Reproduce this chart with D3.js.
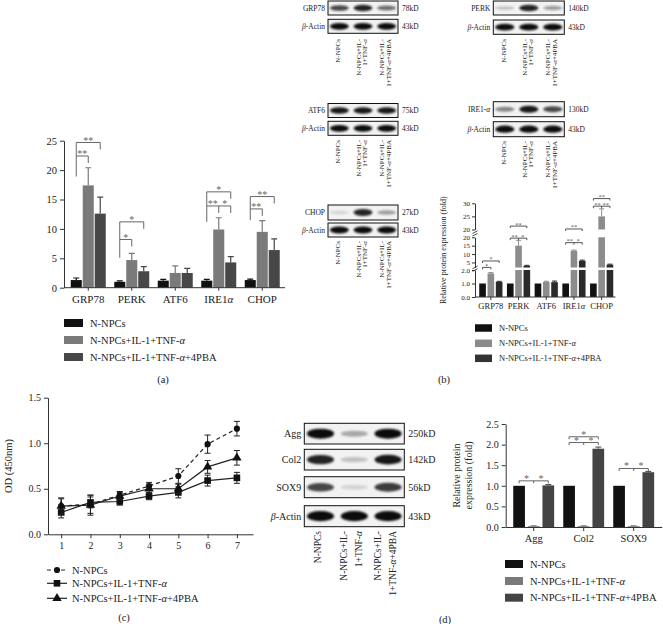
<!DOCTYPE html>
<html>
<head>
<meta charset="utf-8">
<script src="https://cdn.jsdelivr.net/npm/d3@7"></script>
<style>
body { margin: 0; background: #fff; }
svg text { font-family: "Liberation Serif", "DejaVu Serif", serif; fill: #222; }
</style>
</head>
<body>
<div id="chart"></div>
<script>
const w = 663;
const h = 624;

// ---- data ----
const groups = ['N-NPCs', 'N-NPCs+IL-1+TNF-α', 'N-NPCs+IL-1+TNF-α+4PBA'];
const erCats = ['GRP78', 'PERK', 'ATF6', 'IRE1α', 'CHOP'];

// (a) qPCR
const aCtrl = [1.3, 1.0, 1.2, 1.2, 1.3];
const aCtrlErr = [0.35, 0.15, 0.2, 0.2, 0.15];
const aIL = [17.4, 4.7, 2.5, 9.9, 9.5];
const aILErr = [3.0, 1.15, 1.2, 2.0, 1.9];
const aPBA = [12.6, 2.8, 2.5, 4.3, 6.4];
const aPBAErr = [2.8, 0.8, 0.8, 1.0, 1.9];
const sigA = [
    { cat: 'GRP78', to: 1, y: 22.4, labels: ['**'] },
    { cat: 'GRP78', to: 2, y: 24.7, labels: ['**'] },
    { cat: 'PERK', to: 1, y: 8.2, labels: ['*'] },
    { cat: 'PERK', to: 2, y: 11.2, labels: ['*'] },
    { cat: 'IRE1α', to: 2, mid: true, y: 13.9, labels: ['**', '*'] },
    { cat: 'IRE1α', to: 2, y: 16.3, labels: ['*'] },
    { cat: 'CHOP', to: 1, y: 13.4, labels: ['**'] },
    { cat: 'CHOP', to: 2, y: 15.5, labels: ['**'] }
];
const legA = [
    { cat: 'GRP78', bottom: 18.9 },
    { cat: 'PERK', bottom: 5.1 },
    { cat: 'IRE1α', bottom: 11.2 },
    { cat: 'CHOP', bottom: 11.5 }
];

// (b) western blot quantification
const bCtrl = [1, 1, 1, 1, 1];
const bIL = [1.75, 15, 1.12, 12, 25];
const bILErr = [0.06, 3.2, 0.05, 0.4, 2.9];
const bPBA = [1.12, 3.0, 1.1, 6.0, 3.7];
const bPBAErr = [0.04, 0.3, 0.08, 0.4, 0.3];
const bSegDomains = [[0, 2], [2, 20], [20, 30]];
const bSegTicks = [[0, 1, 2], [5, 10, 15, 20], [20, 25, 30]];
const sigB = [
    { cat: 'GRP78', to: 1, y: 2.05, labels: ['*'] },
    { cat: 'GRP78', to: 2, y: 5.9, labels: ['*'] },
    { cat: 'PERK', to: 2, mid: true, y: 19.5, labels: ['**', '*'] },
    { cat: 'PERK', to: 2, y: 21.3, labels: ['**'] },
    { cat: 'IRE1α', to: 2, mid: true, y: 16.8, labels: ['**', '*'] },
    { cat: 'IRE1α', to: 2, y: 20.2, labels: ['**'] },
    { cat: 'CHOP', to: 2, mid: true, y: 28.9, labels: ['**', '**'] },
    { cat: 'CHOP', to: 2, y: 31.8, labels: ['**'] }
];

// blot band intensities (lane 1..3)
const blotGRP78 = [0.7, 0.85, 0.55];
const blotPERK = [0.2, 0.85, 0.35];
const blotATF6 = [0.9, 0.9, 0.9];
const blotIRE1 = [0.45, 0.9, 0.7];
const blotCHOP = [0.12, 0.85, 0.35];
const blotActin = [0.95, 0.95, 0.95];
const blotAgg = [0.95, 0.3, 0.95];
const blotCol2 = [0.85, 0.2, 0.9];
const blotSOX9 = [0.7, 0.12, 0.75];
const laneLines = [['N-NPCs'], ['N-NPCs+IL-', '1+TNF-α'], ['N-NPCs+IL-', '1+TNF-α+4PBA']];

// (c) CCK-8
const days = [1, 2, 3, 4, 5, 6, 7];
const cCtrl = [0.31, 0.33, 0.43, 0.53, 0.64, 0.99, 1.16];
const cCtrlErr = [0.08, 0.1, 0.04, 0.04, 0.08, 0.1, 0.08];
const cIL = [0.24, 0.35, 0.36, 0.42, 0.46, 0.59, 0.62];
const cILErr = [0.06, 0.06, 0.04, 0.04, 0.06, 0.06, 0.06];
const cPBA = [0.31, 0.32, 0.42, 0.5, 0.5, 0.74, 0.84];
const cPBAErr = [0.09, 0.11, 0.04, 0.05, 0.05, 0.07, 0.08];

// (d) matrix proteins
const dCats = ['Agg', 'Col2', 'SOX9'];
const dCtrl = [1, 1, 1];
const dIL = [0.02, 0.02, 0.02];
const dILErr = [0.01, 0.01, 0.01];
const dPBA = [1.01, 1.9, 1.33];
const dPBAErr = [0.02, 0.04, 0.02];
const sigD = [
    { cat: 'Agg', to: 2, mid: true, y: 1.12, labels: ['*', '*'] },
    { cat: 'Col2', to: 2, mid: true, y: 2.05, labels: ['*', '*'] },
    { cat: 'Col2', to: 2, y: 2.19, labels: ['*'] },
    { cat: 'SOX9', to: 2, mid: true, y: 1.42, labels: ['*', '*'] }
];

// ---- helpers ----
const svg = d3.select('#chart').append('svg')
    .attr('width', w)
    .attr('height', h)
    .style('background-color', '#fff');

const defs = svg.append('defs');
defs.append('filter').attr('id', 'blur')
    .attr('x', '-40%').attr('y', '-120%').attr('width', '180%').attr('height', '340%')
    .append('feGaussianBlur').attr('stdDeviation', '1.3 0.9');

function rich(t, str) {
    str.split(/([αβ])/).filter(s => s).forEach(s => {
        const sp = t.append('tspan').text(s);
        if (/[αβ]/.test(s)) sp.style('font-style', 'italic');
    });
}

function styleAxis(g, fs) {
    g.selectAll('text').style('font-size', fs + 'px');
    g.selectAll('path,line').attr('stroke', '#333');
}

function drawBlot(x0, x1, y0, y1, vals, label, kd, fs) {
    const lane = d3.scaleBand().domain(d3.range(vals.length)).range([x0, x1])
        .paddingInner(0.2).paddingOuter(0.08);
    const ry = d3.scaleLinear().domain([0, 1]).range([(y1 - y0) * 0.1, (y1 - y0) * 0.25]);
    svg.append('rect')
        .attr('x', x0).attr('y', y0)
        .attr('width', x1 - x0).attr('height', y1 - y0)
        .attr('fill', '#f2f2f2').attr('stroke', '#111').attr('stroke-width', 1);
    svg.append('g').selectAll('ellipse')
        .data(vals)
        .enter()
        .append('ellipse')
        .attr('cx', (d, i) => lane(i) + lane.bandwidth() / 2)
        .attr('cy', (y0 + y1) / 2)
        .attr('rx', lane.bandwidth() / 2)
        .attr('ry', d => ry(d))
        .attr('fill', '#000')
        .attr('opacity', d => d)
        .attr('filter', 'url(#blur)');
    const t = svg.append('text')
        .attr('x', x0 - 3).attr('y', (y0 + y1) / 2).attr('dy', '0.35em')
        .attr('text-anchor', 'end').style('font-size', fs + 'px');
    rich(t, label);
    svg.append('text')
        .attr('x', x1 + 4).attr('y', (y0 + y1) / 2).attr('dy', '0.35em')
        .style('font-size', fs + 'px').text(kd);
    return lane;
}

function laneLabels(lane, yTop, fs, gap, shift) {
    laneLines.forEach((lines, i) => {
        const cx = lane(i) + lane.bandwidth() / 2 + shift;
        lines.forEach((line, j) => {
            const x = cx + (j - (lines.length - 1) / 2) * gap;
            const t = svg.append('text')
                .attr('transform', `translate(${x},${yTop}) rotate(-90)`)
                .attr('text-anchor', 'end').attr('dy', '0.35em')
                .style('font-size', fs + 'px');
            rich(t, line);
        });
    });
}

function legendBars(x, ys, colors, sw, sh, fs) {
    groups.forEach((g, i) => {
        svg.append('rect').attr('x', x).attr('y', ys[i] - sh / 2)
            .attr('width', sw).attr('height', sh).attr('fill', colors[i]);
        const t = svg.append('text').attr('x', x + sw + 7).attr('y', ys[i]).attr('dy', '0.35em')
            .style('font-size', fs + 'px');
        rich(t, g);
    });
}

function brackets(list, center, yf, drop, fs, dy, color) {
    list.forEach(s => {
        const x1 = center(s.cat, 0), x2 = center(s.cat, s.to), xm = center(s.cat, 1);
        const yy = yf(s.y);
        svg.append('path')
            .attr('d', `M${x1},${yy + (s.noLeft ? 0 : drop)}V${yy}H${x2}V${yy + drop}`)
            .attr('fill', 'none').attr('stroke', color).attr('stroke-width', 1);
        if (s.mid) {
            svg.append('line').attr('x1', xm).attr('x2', xm).attr('y1', yy).attr('y2', yy + drop)
                .attr('stroke', color).attr('stroke-width', 1);
        }
        const pos = s.labels.length === 1 ? [(x1 + x2) / 2] : [(x1 + xm) / 2, (xm + x2) / 2];
        s.labels.forEach((lab, i) => {
            svg.append('text').attr('x', pos[i]).attr('y', yy + dy)
                .attr('text-anchor', 'middle').style('font-size', fs + 'px')
                .style('fill', color).text(lab);
        });
    });
}

// ================= (a) =================
const colA = ['#111', '#7a7a7a', '#474747'];
const ax = d3.scaleBand().domain(erCats).range([66.5, 284]);
const aIn = d3.scaleBand().domain([0, 1, 2]).range([-17.5, 17.5]).paddingInner(0.08);
const ay = d3.scaleLinear().domain([0, 25]).range([287.7, 140.7]);
const aRows = erCats.flatMap((c, i) => [[aCtrl, aCtrlErr], [aIL, aILErr], [aPBA, aPBAErr]]
    .map((s, k) => ({ cat: c, k: k, v: s[0][i], e: s[1][i] })));
const aCenter = (c, k) => ax(c) + ax.bandwidth() / 2 + aIn(k) + aIn.bandwidth() / 2;
const aX0 = ax.range()[0] - 2.5;

svg.append('g').selectAll('rect').data(aRows).enter().append('rect')
    .attr('x', d => aCenter(d.cat, d.k) - aIn.bandwidth() / 2)
    .attr('y', d => ay(d.v))
    .attr('width', aIn.bandwidth())
    .attr('height', d => ay(0) - ay(d.v))
    .attr('fill', d => colA[d.k]);
svg.append('g').selectAll('path').data(aRows).enter().append('path')
    .attr('d', d => {
        const x = aCenter(d.cat, d.k);
        return `M${x},${ay(d.v)}V${ay(d.v + d.e)}M${x - 3},${ay(d.v + d.e)}H${x + 3}`;
    })
    .attr('stroke', d => colA[d.k]).attr('stroke-width', 1.2).attr('fill', 'none');

const ayAxis = svg.append('g').attr('transform', `translate(${aX0},0)`)
    .call(d3.axisLeft(ay).tickValues([0, 5, 10, 15, 20, 25]).tickSize(4).tickSizeOuter(0).tickPadding(3));
styleAxis(ayAxis, 10.5);
const axAxis = svg.append('g').attr('transform', `translate(0,${ay(0)})`)
    .call(d3.axisBottom(ax).tickSize(3).tickSizeOuter(0).tickPadding(5));
axAxis.select('.domain').attr('d', `M${aX0},0H${ax.range()[1] + 1}`);
styleAxis(axAxis, 11);
axAxis.selectAll('.tick text').each(function (d) { const t = d3.select(this).text(''); rich(t, d); });

legA.forEach(l => {
    const top = d3.max(sigA.filter(s => s.cat === l.cat), s => s.y);
    svg.append('line').attr('x1', aCenter(l.cat, 0)).attr('x2', aCenter(l.cat, 0))
        .attr('y1', ay(top)).attr('y2', ay(l.bottom)).attr('stroke', '#666').attr('stroke-width', 1);
});
brackets(sigA.map(s => Object.assign({ noLeft: true }, s)), aCenter, ay, 7, 10, 1.5, '#666');

legendBars(64, [323, 340, 357], colA, 19, 8, 10.5);
svg.append('text').attr('x', 163).attr('y', 379).attr('dy', '0.35em').attr('text-anchor', 'middle')
    .style('font-size', '10.5px').text('(a)');

// ================= (b) blots =================
const bl1 = drawBlot(328, 398, 1, 15, blotGRP78, 'GRP78', '78kD', 7.5);
drawBlot(328, 398, 19.3, 33.3, blotActin, 'β-Actin', '43kD', 7.5);
laneLabels(bl1, 39, 7, 6.5, -1.5);
const bl2 = drawBlot(493.3, 564.3, 1, 15, blotPERK, 'PERK', '140kD', 7.5);
drawBlot(493.3, 564.3, 20, 34.3, blotActin, 'β-Actin', '43kD', 7.5);
laneLabels(bl2, 39, 7, 6.5, -1.5);
const bl3 = drawBlot(328, 398, 103.5, 117.5, blotATF6, 'ATF6', '75kD', 7.5);
drawBlot(328, 398, 121.3, 135.3, blotActin, 'β-Actin', '43kD', 7.5);
laneLabels(bl3, 140, 7, 6.5, -1.5);
const bl4 = drawBlot(493.3, 564.3, 101.7, 116.7, blotIRE1, 'IRE1-α', '130kD', 7.5);
drawBlot(493.3, 564.3, 121.7, 136.7, blotActin, 'β-Actin', '43kD', 7.5);
laneLabels(bl4, 141, 7, 6.5, -1.5);
const bl5 = drawBlot(328, 398, 205, 220, blotCHOP, 'CHOP', '27kD', 7.5);
drawBlot(328, 398, 223, 237, blotActin, 'β-Actin', '43kD', 7.5);
laneLabels(bl5, 241, 7, 6.5, -1.5);

// ================= (b) chart =================
const colB = ['#111', '#8c8c8c', '#2a2a2a'];
const bx = d3.scaleBand().domain(erCats).range([477, 615.5]);
const bIn = d3.scaleBand().domain([0, 1, 2]).range([-11.6, 11.6]).paddingInner(0.2);
const bRanges = [[297, 270], [267.5, 237.3], [229.5, 203.3]];
const bSeg = bSegDomains.map((dom, i) => ({
    dom: dom,
    scale: d3.scaleLinear().domain(dom).range(bRanges[i]),
    ticks: bSegTicks[i]
}));
const yB = v => (v <= 2 ? bSeg[0] : v <= 20 ? bSeg[1] : bSeg[2]).scale(v);
const bCenter = (c, k) => bx(c) + bx.bandwidth() / 2 + bIn(k) + bIn.bandwidth() / 2;
const bX0 = 475;
const bRows = erCats.flatMap((c, i) => [[bCtrl, null], [bIL, bILErr], [bPBA, bPBAErr]]
    .map((s, k) => ({ cat: c, k: k, v: s[0][i], e: s[1] ? s[1][i] : 0 })));

bSeg.forEach(seg => {
    svg.append('g').selectAll('rect')
        .data(bRows.filter(d => d.v > seg.dom[0]))
        .enter().append('rect')
        .attr('x', d => bCenter(d.cat, d.k) - bIn.bandwidth() / 2)
        .attr('y', d => seg.scale(Math.min(d.v, seg.dom[1])))
        .attr('width', bIn.bandwidth())
        .attr('height', d => seg.scale(seg.dom[0]) - seg.scale(Math.min(d.v, seg.dom[1])))
        .attr('fill', d => colB[d.k]);
    const g = svg.append('g').attr('transform', `translate(${bX0},0)`)
        .call(d3.axisLeft(seg.scale).tickValues(seg.ticks).tickSize(3).tickSizeOuter(0).tickPadding(2));
    styleAxis(g, 7);
});
svg.append('g').selectAll('path').data(bRows.filter(d => d.e > 0)).enter().append('path')
    .attr('d', d => {
        const x = bCenter(d.cat, d.k);
        return `M${x},${yB(d.v)}V${yB(d.v + d.e)}M${x - 2.5},${yB(d.v + d.e)}H${x + 2.5}`;
    })
    .attr('stroke', d => colB[d.k]).attr('stroke-width', 1).attr('fill', 'none');
// axis break marks
[[bSeg[0].scale(2), bSeg[1].scale(2)], [bSeg[1].scale(20), bSeg[2].scale(20)]].forEach(p => {
    const m = (p[0] + p[1]) / 2;
    [-1.3, 1.3].forEach(o => {
        svg.append('line').attr('x1', bX0 - 2.5).attr('x2', bX0 + 2.5)
            .attr('y1', m + o + 1.3).attr('y2', m + o - 1.3)
            .attr('stroke', '#333').attr('stroke-width', 0.9);
    });
});
const bxAxis = svg.append('g').attr('transform', `translate(0,${bRanges[0][0]})`)
    .call(d3.axisBottom(bx).tickSize(3).tickSizeOuter(0).tickPadding(3));
bxAxis.select('.domain').attr('d', `M${bX0},0H${bx.range()[1]}`);
styleAxis(bxAxis, 8.5);
bxAxis.selectAll('.tick text').each(function (d) { const t = d3.select(this).text(''); rich(t, d); });
brackets(sigB, bCenter, yB, 2, 6.5, 0.5, '#555');
svg.append('text')
    .attr('transform', `translate(443,${(bRanges[0][0] + bRanges[2][1]) / 2}) rotate(-90)`)
    .attr('text-anchor', 'middle').attr('dy', '0.35em').style('font-size', '8px')
    .text('Relative protein expression (fold)');
legendBars(475, [328, 343.3, 358.3], ['#111', '#8a8a8a', '#333'], 17, 7.5, 8.5);
svg.append('text').attr('x', 444).attr('y', 379).attr('dy', '0.35em').attr('text-anchor', 'middle')
    .style('font-size', '10.5px').text('(b)');

// ================= (c) =================
const cxs = d3.scaleLinear().domain([0.55, 7.55]).range([48, 253]);
const cys = d3.scaleLinear().domain([0, 1.5]).range([534.3, 397.7]);
const cSeries = [
    { vals: cCtrl, err: cCtrlErr, sym: d3.symbolCircle, size: 30, dash: '4,3' },
    { vals: cIL, err: cILErr, sym: d3.symbolSquare, size: 44, dash: null },
    { vals: cPBA, err: cPBAErr, sym: d3.symbolTriangle, size: 38, dash: null }
];
const cyAxis = svg.append('g').attr('transform', `translate(${cxs.range()[0]},0)`)
    .call(d3.axisLeft(cys).tickValues([0, 0.5, 1, 1.5]).tickFormat(d3.format('.1f')).tickSize(4).tickSizeOuter(0).tickPadding(3));
styleAxis(cyAxis, 10);
const cxAxis = svg.append('g').attr('transform', `translate(0,${cys(0)})`)
    .call(d3.axisBottom(cxs).tickValues(days).tickFormat(d3.format('d')).tickSize(4).tickSizeOuter(0).tickPadding(4));
styleAxis(cxAxis, 10);
const cLine = d3.line().x((d, i) => cxs(days[i])).y(d => cys(d));
cSeries.forEach(s => {
    svg.append('path').datum(s.vals).attr('d', cLine)
        .attr('fill', 'none').attr('stroke', '#222').attr('stroke-width', 1.2)
        .attr('stroke-dasharray', s.dash);
    svg.append('g').selectAll('path').data(s.vals).enter().append('path')
        .attr('d', (d, i) => {
            const x = cxs(days[i]), y1 = cys(d - s.err[i]), y2 = cys(d + s.err[i]);
            return `M${x},${y1}V${y2}M${x - 3},${y1}H${x + 3}M${x - 3},${y2}H${x + 3}`;
        })
        .attr('stroke', '#222').attr('stroke-width', 1).attr('fill', 'none');
    svg.append('g').selectAll('path').data(s.vals).enter().append('path')
        .attr('d', d3.symbol().type(s.sym).size(s.size))
        .attr('transform', (d, i) => `translate(${cxs(days[i])},${cys(d)})`)
        .attr('fill', '#111');
});
svg.append('text')
    .attr('transform', `translate(8,${(cys(0) + cys(1.5)) / 2}) rotate(-90)`)
    .attr('text-anchor', 'middle').attr('dy', '0.35em').style('font-size', '10.5px')
    .text('OD (450nm)');
[570, 583.3, 598.3].forEach((y, i) => {
    const s = cSeries[i];
    svg.append('line').attr('x1', 47).attr('x2', 67).attr('y1', y).attr('y2', y)
        .attr('stroke', '#222').attr('stroke-width', 1.2).attr('stroke-dasharray', s.dash);
    svg.append('path').attr('d', d3.symbol().type(s.sym).size(s.size))
        .attr('transform', `translate(57,${y})`).attr('fill', '#111');
    const t = svg.append('text').attr('x', 72).attr('y', y).attr('dy', '0.35em').style('font-size', '10.5px');
    rich(t, groups[i]);
});
svg.append('text').attr('x', 124).attr('y', 617).attr('dy', '0.35em').attr('text-anchor', 'middle')
    .style('font-size', '10.5px').text('(c)');

// ================= (d) blots =================
const dl = drawBlot(304.3, 404.3, 423.3, 444, blotAgg, 'Agg', '250kD', 10);
drawBlot(304.3, 404.3, 449.3, 470, blotCol2, 'Col2', '142kD', 10);
drawBlot(304.3, 404.3, 476.7, 497.7, blotSOX9, 'SOX9', '56kD', 10);
drawBlot(304.3, 404.3, 505.7, 526.7, blotActin, 'β-Actin', '43kD', 10);
laneLabels(dl, 531, 9.5, 15, -3);

// ================= (d) chart =================
const colD = ['#111', '#7a7a7a', '#444'];
const dxs = d3.scaleBand().domain(dCats).range([505.7, 661.7]).paddingOuter(0.06);
const dIn = d3.scaleBand().domain([0, 1, 2]).range([-20.45, 20.45]).paddingInner(0.2);
const dys = d3.scaleLinear().domain([0, 2.5]).range([527, 424]);
const dCenter = (c, k) => dxs(c) + dxs.bandwidth() / 2 + dIn(k) + dIn.bandwidth() / 2;
const dRows = dCats.flatMap((c, i) => [[dCtrl, null], [dIL, dILErr], [dPBA, dPBAErr]]
    .map((s, k) => ({ cat: c, k: k, v: s[0][i], e: s[1] ? s[1][i] : 0 })));
svg.append('g').selectAll('rect').data(dRows).enter().append('rect')
    .attr('x', d => dCenter(d.cat, d.k) - dIn.bandwidth() / 2)
    .attr('y', d => dys(d.v))
    .attr('width', dIn.bandwidth())
    .attr('height', d => dys(0) - dys(d.v))
    .attr('fill', d => colD[d.k]);
svg.append('g').selectAll('path').data(dRows.filter(d => d.e > 0)).enter().append('path')
    .attr('d', d => {
        const x = dCenter(d.cat, d.k);
        return `M${x},${dys(d.v)}V${dys(d.v + d.e)}M${x - 3},${dys(d.v + d.e)}H${x + 3}`;
    })
    .attr('stroke', d => colD[d.k]).attr('stroke-width', 1).attr('fill', 'none');
const dyAxis = svg.append('g').attr('transform', `translate(${dxs.range()[0]},0)`)
    .call(d3.axisLeft(dys).tickValues([0, 0.5, 1, 1.5, 2, 2.5]).tickFormat(d3.format('.1f')).tickSize(4).tickSizeOuter(0).tickPadding(3));
styleAxis(dyAxis, 10);
const dxAxis = svg.append('g').attr('transform', `translate(0,${dys(0)})`)
    .call(d3.axisBottom(dxs).tickSize(4).tickSizeOuter(0).tickPadding(4));
styleAxis(dxAxis, 10.5);
brackets(sigD, dCenter, dys, 2.5, 10, 1, '#666');
['Relative protein', 'expression (fold)'].forEach((line, j) => {
    svg.append('text')
        .attr('transform', `translate(${456 + j * 12},${(dys(0) + dys(2.5)) / 2}) rotate(-90)`)
        .attr('text-anchor', 'middle').attr('dy', '0.35em').style('font-size', '10px')
        .text(line);
});
legendBars(505, [564, 581, 597.7], colD, 18, 8, 10.5);
svg.append('text').attr('x', 445).attr('y', 619).attr('dy', '0.35em').attr('text-anchor', 'middle')
    .style('font-size', '10.5px').text('(d)');
</script>
</body>
</html>
